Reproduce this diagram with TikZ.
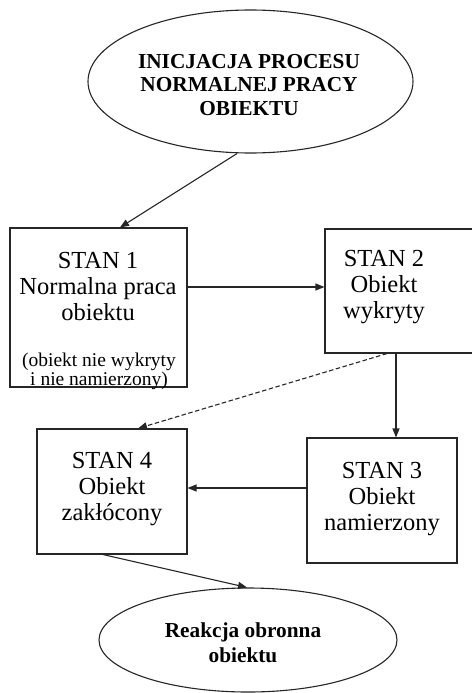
\documentclass[tikz,border=0pt]{standalone}
\usepackage{fontspec}
\setmainfont{Liberation Serif}
\usetikzlibrary{arrows.meta,calc,shapes.geometric}

\tikzset{
  line/.style={line width=1.1pt, draw=black!85},
  arr/.style={line, -{Triangle[length=9pt,width=7pt]}},
  dashedarr/.style={arr, dash pattern=on 4.5pt off 2.5pt},
  statebox/.style={line, rectangle, inner sep=0pt},
  goal/.style={line, ellipse, inner sep=0pt},
  % texts are placed by the baseline of their last line
  maintext/.style={inner sep=0pt, align=center, anchor=base,
    font=\fontsize{24.5}{26}\selectfont},
  notetext/.style={inner sep=0pt, align=center, anchor=base,
    font=\fontsize{19.5}{18.5}\selectfont},
  goaltext/.style={inner sep=0pt, align=center, anchor=base,
    font=\bfseries\fontsize{21.3}{23.5}\selectfont},
}

\begin{document}
\begin{tikzpicture}[x=1pt, y=-1pt]
  \useasboundingbox (0,0) rectangle (471,693);

  % start and end of the process
  \node[goal, minimum width=325pt, minimum height=143pt] (start) at (250.5,81.5) {};
  \node[goal, minimum width=298pt, minimum height=104pt] (react) at (248,640) {};

  % state boxes
  \node[statebox, minimum width=177pt, minimum height=159pt] (s1) at (98.5,307.5) {};
  \node[statebox, minimum width=155pt, minimum height=124pt] (s2) at (402.5,291) {};
  \node[statebox, minimum width=150pt, minimum height=125pt] (s4) at (112,491.5) {};
  \node[statebox, minimum width=150pt, minimum height=125pt] (s3) at (382,500.5) {};

  % texts
  \node[goaltext] (startT) at (249,115) {INICJACJA PROCESU\\NORMALNEJ PRACY\\OBIEKTU};
  \node[goaltext, font=\bfseries\fontsize{21.3}{25}\selectfont] (reactT) at (243,662) {Reakcja obronna\\obiektu};
  \node[maintext] (s1T) at (98,320) {STAN 1\\Normalna praca\\obiektu};
  \node[notetext] (s1N) at (99,385) {(obiekt nie wykryty\\i nie namierzony)};
  \node[maintext] (s2T) at (384,318) {STAN 2\\Obiekt\\wykryty};
  \node[maintext] (s4T) at (112,520) {STAN 4\\Obiekt\\zakłócony};
  \node[maintext] (s3T) at (382,530) {STAN 3\\Obiekt\\namierzony};

  % transitions
  \draw[arr] ([xshift=-13.5pt]start.south) -- ([xshift=21.5pt]s1.north);
  \draw[arr] ([yshift=20.5pt]s1.east) -- ([yshift=20.5pt]s1.east -| s2.west);
  \draw[arr] ([xshift=14pt]s3.north |- s2.south) -- ([xshift=14pt]s3.north);
  \draw[dashedarr] ([xshift=-15.5pt]s2.south) -- ([xshift=26pt]s4.north);
  \draw[arr] ([yshift=12.5pt]s3.west) -- ([yshift=12.5pt]s3.west -| s4.east);
  \draw[arr] ([xshift=-9pt]s4.south) -- ([xshift=-1pt]react.north);
\end{tikzpicture}
\end{document}
